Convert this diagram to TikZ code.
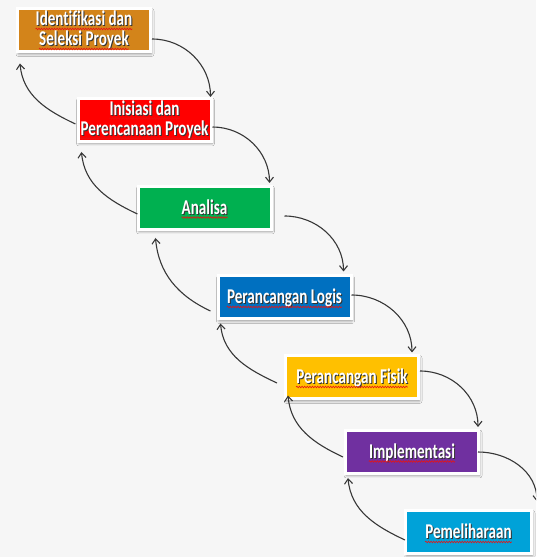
\documentclass[tikz,border=0pt]{standalone}
\usepackage{fontspec}
\setmainfont{Carlito}[Ligatures=NoCommon]
\usepackage{graphicx}
\usetikzlibrary{arrows.meta,shadows.blur,decorations.pathmorphing}

\definecolor{pagebg}{RGB}{246,246,246}
\definecolor{stageorange}{RGB}{211,132,26}
\definecolor{stagered}{RGB}{255,0,0}
\definecolor{stagegreen}{RGB}{0,176,80}
\definecolor{stageblue}{RGB}{0,112,192}
\definecolor{stageyellow}{RGB}{255,192,0}
\definecolor{stagepurple}{RGB}{112,48,160}
\definecolor{stagecyan}{RGB}{0,162,216}
\definecolor{flowgray}{RGB}{55,55,55}
\definecolor{spellred}{RGB}{230,20,20}

\tikzset{
  stagebox/.style={draw=white, line width=3pt, minimum width=133pt,
    minimum height=43pt, inner sep=0pt,
    blur shadow={shadow xshift=1pt, shadow yshift=-2pt,
      shadow blur radius=2.5pt, shadow opacity=40}},
  stagetext/.style={inner sep=0pt, text=white, anchor=base,
    font=\fontsize{21}{21}\selectfont\bfseries},
  stageshade/.style={inner sep=0pt, text=black!80, anchor=base,
    font=\fontsize{21}{21}\selectfont\bfseries},
  spellwave/.style={draw=spellred, line width=0.6pt,
    decorate, decoration={snake, amplitude=0.8pt, segment length=2.6pt}},
  flow/.style={draw=flowgray, line width=1.1pt,
    -{Straight Barb[length=5pt,width=8pt]}}
}

% one text line on its baseline: {name}{box}{baseline offset}{text}
\newcommand\textline[4]{%
  \node[stageshade] at ([xshift=1pt, yshift=#3-1pt]#2.center) {\scalebox{0.72}[1]{#4}};
  \node[stagetext] (#1) at ([yshift=#3]#2.center) {\scalebox{0.72}[1]{#4}};
  \draw[spellwave] ([yshift=-3pt]#1.base west) -- ([yshift=-3pt]#1.base east);
}

% one stage: [extra box options]{name}{position}{fill}{line 1}{line 2}
\newcommand\stage[6][]{%
  \node[stagebox, fill=#4, #1] (#2) at (#3) {};
  \def\secondline{#6}%
  \ifx\secondline\empty
    \textline{#2-a}{#2}{-6.5pt}{#5}
  \else
    \textline{#2-a}{#2}{4.5pt}{#5}
    \textline{#2-b}{#2}{-15.5pt}{#6}
  \fi
}

\begin{document}
\begin{tikzpicture}[x=1pt, y=1pt]
  \useasboundingbox (0,0) rectangle (536,557);
  \fill[pagebg] (0,0) rectangle (536,557);
  \clip (0,0) rectangle (536,557);

  \stage{ident}{84,526.5}{stageorange}{Identifikasi dan}{Seleksi Proyek}
  \stage{inis}{144.5,437}{stagered}{Inisiasi dan}{Perencanaan Proyek}
  \stage{anal}{204.5,349}{stagegreen}{Analisa}{}
  \stage{logis}{284.5,259.5}{stageblue}{Perancangan Logis}{}
  \stage{fisik}{352,179.5}{stageyellow}{Perancangan Fisik}{}
  \stage{impl}{412,105}{stagepurple}{Implementasi}{}
  \stage[minimum width=126pt]{pemel}{468.5,24.5}{stagecyan}{Pemeliharaan}{}

  % forward flow: each stage down to the next
  \draw[flow] ([yshift=-8.5pt]ident.east) to[out=0, in=90]
    ([xshift=-2pt]inis.north east);
  \draw[flow] ([yshift=-7pt]inis.east) to[out=0, in=90]
    ([xshift=-3pt, yshift=2pt]anal.north east);
  \draw[flow] ([xshift=12pt, yshift=-8pt]anal.east) to[out=0, in=90]
    ([xshift=-9pt, yshift=3pt]logis.north east);
  \draw[flow] ([xshift=-1pt, yshift=2.5pt]logis.east) to[out=0, in=90]
    ([xshift=-8pt, yshift=2pt]fisik.north east);
  \draw[flow] ([yshift=6.5pt]fisik.east) to[out=0, in=90]
    ([xshift=-2pt, yshift=2pt]impl.north east);
  \draw[flow] ([xshift=-2pt]impl.east) to[out=0, in=90]
    ([xshift=4pt, yshift=8pt]pemel.north east);

  % feedback: each stage back up to the previous one
  \draw[flow] ([xshift=-1pt, yshift=-4pt]inis.west) to[out=155, in=-85]
    ([xshift=4pt, yshift=-10pt]ident.south west);
  \draw[flow] ([xshift=1pt, yshift=-6pt]anal.west) to[out=155, in=-85]
    ([xshift=5pt, yshift=-9pt]inis.south west);
  \draw[flow] ([xshift=-6pt, yshift=-13.5pt]logis.west) to[out=155, in=-85]
    ([xshift=19pt, yshift=-7pt]anal.south west);
  \draw[flow] ([xshift=-7pt, yshift=-5.5pt]fisik.west) to[out=155, in=-85]
    ([xshift=4pt, yshift=-3pt]logis.south west);
  \draw[flow] ([xshift=-1pt, yshift=-5pt]impl.west) to[out=155, in=-85]
    ([xshift=4pt, yshift=5pt]fisik.south west);
  \draw[flow] ([xshift=1pt, yshift=-7.5pt]pemel.west) to[out=155, in=-85]
    ([xshift=4pt, yshift=-3pt]impl.south west);
\end{tikzpicture}
\end{document}
